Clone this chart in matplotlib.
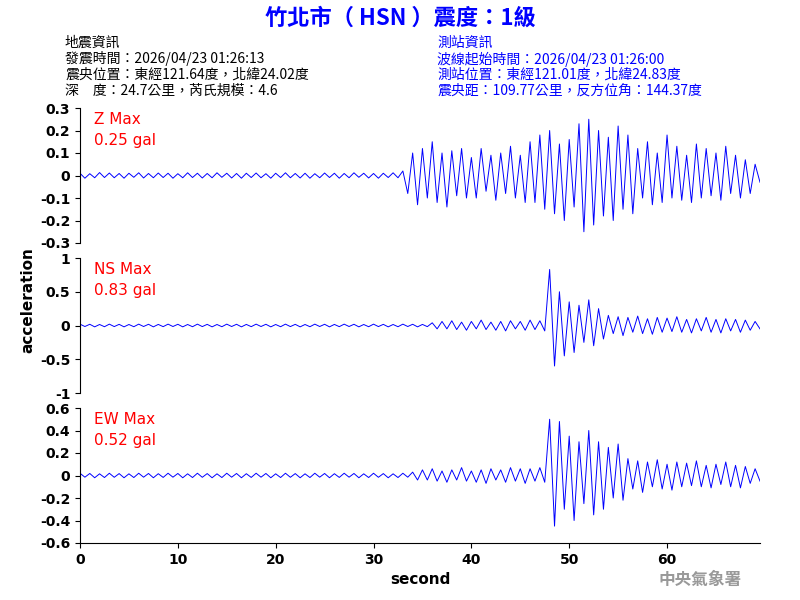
import matplotlib
matplotlib.use("Agg")
import matplotlib.pyplot as plt
import numpy as np

plt.rcParams["font.family"] = ["Noto Sans CJK TC", "DejaVu Sans"]

# peak values every 0.5 s
z_vals = [0.01, -0.012, 0.008, -0.01, 0.013, -0.009, 0.011, -0.01, 0.009, -0.012,
          0.01, -0.008, 0.012, -0.011, 0.009, -0.01, 0.011, -0.009, 0.01, -0.012,
          0.008, -0.01, 0.012, -0.009, 0.01, -0.011, 0.009, -0.01, 0.012, -0.008,
          0.01, -0.011, 0.009, -0.012, 0.01, -0.009, 0.011, -0.01, 0.008, -0.012,
          0.01, -0.009, 0.012, -0.01, 0.009, -0.011, 0.01, -0.012, 0.008, -0.01,
          0.011, -0.009, 0.01, -0.012, 0.009, -0.01, 0.012, -0.008, 0.01, -0.011,
          0.009, -0.012, 0.01, -0.009, 0.012, -0.01,
          0.02, -0.08, 0.1, -0.13, 0.12, -0.1, 0.15, -0.12, 0.1, -0.14, 0.11, -0.09, 0.12, -0.1,
          0.08, -0.1, 0.12, -0.07, 0.09, -0.11, 0.1, -0.08, 0.13, -0.1, 0.09, -0.12,
          0.15, -0.12, 0.18, -0.15, 0.2, -0.17, 0.14, -0.2, 0.16, -0.14, 0.23, -0.25,
          0.25, -0.22, 0.2, -0.18, 0.17, -0.2, 0.22, -0.15, 0.18, -0.17,
          0.12, -0.1, 0.15, -0.13, 0.1, -0.12, 0.18, -0.1, 0.13, -0.11, 0.09, -0.12,
          0.14, -0.1, 0.12, -0.09, 0.1, -0.11, 0.13, -0.08, 0.09, -0.1, 0.07, -0.08, 0.05, -0.03]

ns_vals = [0.02, -0.015, 0.018, -0.02, 0.015, -0.018, 0.02, -0.016, 0.017, -0.02,
           0.015, -0.018, 0.02, -0.015, 0.018, -0.02, 0.016, -0.017, 0.02, -0.015,
           0.018, -0.02, 0.015, -0.018, 0.02, -0.016, 0.017, -0.02, 0.015, -0.018,
           0.02, -0.015, 0.018, -0.02, 0.016, -0.017, 0.02, -0.015, 0.018, -0.02,
           0.015, -0.018, 0.02, -0.016, 0.017, -0.02, 0.015, -0.018, 0.02, -0.015,
           0.018, -0.02, 0.016, -0.017, 0.02, -0.015, 0.018, -0.02, 0.015, -0.018,
           0.02, -0.016, 0.017, -0.02, 0.015, -0.018, 0.02, -0.015, 0.018, -0.02, 0.016, -0.017,
           0.04, -0.05, 0.06, -0.05, 0.07, -0.06, 0.05, -0.07, 0.06, -0.05, 0.08, -0.06,
           0.05, -0.07, 0.06, -0.08, 0.07, -0.05, 0.06, -0.07, 0.08, -0.06, 0.07, -0.08,
           0.83, -0.6, 0.5, -0.45, 0.35, -0.4, 0.3, -0.25, 0.38, -0.3, 0.25, -0.2,
           0.15, -0.12, 0.13, -0.15, 0.12, -0.1, 0.14, -0.12, 0.1, -0.13, 0.12, -0.1,
           0.11, -0.09, 0.13, -0.1, 0.09, -0.11, 0.1, -0.08, 0.12, -0.1, 0.09, -0.11,
           0.1, -0.08, 0.09, -0.1, 0.08, -0.07, 0.06, -0.05]

ew_vals = [0.02, -0.015, 0.018, -0.02, 0.015, -0.018, 0.02, -0.016, 0.017, -0.02,
           0.015, -0.018, 0.02, -0.015, 0.018, -0.02, 0.016, -0.017, 0.02, -0.015,
           0.018, -0.02, 0.015, -0.018, 0.02, -0.016, 0.017, -0.02, 0.015, -0.018,
           0.02, -0.015, 0.018, -0.02, 0.016, -0.017, 0.02, -0.015, 0.018, -0.02,
           0.015, -0.018, 0.02, -0.016, 0.017, -0.02, 0.015, -0.018, 0.02, -0.015,
           0.018, -0.02, 0.016, -0.017, 0.02, -0.015, 0.018, -0.02, 0.015, -0.018,
           0.02, -0.016, 0.017, -0.02, 0.015, -0.018, 0.02, -0.015,
           0.03, -0.04, 0.05, -0.04, 0.06, -0.05, 0.04, -0.06, 0.05, -0.04, 0.07, -0.05,
           0.04, -0.06, 0.05, -0.07, 0.06, -0.04, 0.05, -0.06, 0.07, -0.05, 0.06, -0.07,
           0.06, -0.05, 0.07, -0.06,
           0.5, -0.45, 0.48, -0.3, 0.35, -0.4, 0.3, -0.25, 0.4, -0.35, 0.3, -0.3,
           0.25, -0.2, 0.28, -0.22,
           0.15, -0.12, 0.13, -0.15, 0.12, -0.1, 0.14, -0.12, 0.1, -0.13, 0.12, -0.1,
           0.11, -0.09, 0.13, -0.1, 0.09, -0.11, 0.1, -0.08, 0.12, -0.1, 0.09, -0.11,
           0.08, -0.07, 0.06, -0.05]

times = np.arange(len(z_vals)) * 0.5

panels = [
    ("Z Max\n0.25 gal", z_vals, (-0.3, 0.3), [-0.3, -0.2, -0.1, 0, 0.1, 0.2, 0.3]),
    ("NS Max\n0.83 gal", ns_vals, (-1, 1), [-1, -0.5, 0, 0.5, 1]),
    ("EW Max\n0.52 gal", ew_vals, (-0.6, 0.6), [-0.6, -0.4, -0.2, 0, 0.2, 0.4, 0.6]),
]
boxes = [(0.1, 0.595, 0.85, 0.225), (0.1, 0.345, 0.85, 0.225), (0.1, 0.095, 0.85, 0.225)]

fig = plt.figure(figsize=(8, 6), dpi=100)
for i, ((label, vals, ylim, yticks), box) in enumerate(zip(panels, boxes)):
    ax = fig.add_axes(box)
    ax.plot(times, vals, color="blue", lw=0.7)
    ax.set_xlim(0, 69.5)
    ax.set_ylim(*ylim)
    ax.set_yticks(yticks)
    ax.set_yticklabels([f"{v:g}" for v in yticks], fontsize=10, family="DejaVu Sans",
                       fontweight="bold")
    ax.spines["top"].set_visible(False)
    ax.spines["right"].set_visible(False)
    ax.text(0.02, 0.97, label, transform=ax.transAxes, color="red", va="top",
            fontsize=11, family="DejaVu Sans", linespacing=1.5)
    if i < 2:
        ax.spines["bottom"].set_visible(False)
        ax.set_xticks([])
    else:
        ax.set_xticks([0, 10, 20, 30, 40, 50, 60])
        ax.set_xticklabels(["0", "10", "20", "30", "40", "50", "60"], fontsize=10,
                           family="DejaVu Sans", fontweight="bold")
        ax.set_xlabel("second", fontsize=11, family="DejaVu Sans", fontweight="bold")

fig.text(0.035, 0.5, "acceleration", rotation=90, va="center", ha="center",
         fontsize=11, family="DejaVu Sans", fontweight="bold")
fig.text(0.5, 0.97, "竹北市（ HSN ）震度：1級", color="blue", ha="center", va="center",
         fontsize=16, fontweight="bold")

left_info = ["地震資訊", "發震時間：2026/04/23 01:26:13",
             "震央位置：東經121.64度，北緯24.02度", "深　度：24.7公里，芮氏規模：4.6"]
right_info = ["測站資訊", "波線起始時間：2026/04/23 01:26:00",
              "測站位置：東經121.01度，北緯24.83度", "震央距：109.77公里，反方位角：144.37度"]
for k, (l, r) in enumerate(zip(left_info, right_info)):
    y = 1 - (43 + 16 * k) / 600
    fig.text(65 / 800, y, l, color="black", fontsize=10, va="center")
    fig.text(437 / 800, y, r, color="blue", fontsize=10, va="center")

fig.text(700 / 800, 1 - 580 / 600, "中央氣象署", color="#999999", fontsize=12,
         fontweight="bold", ha="center", va="center")

fig.savefig("out.png", dpi=100)
